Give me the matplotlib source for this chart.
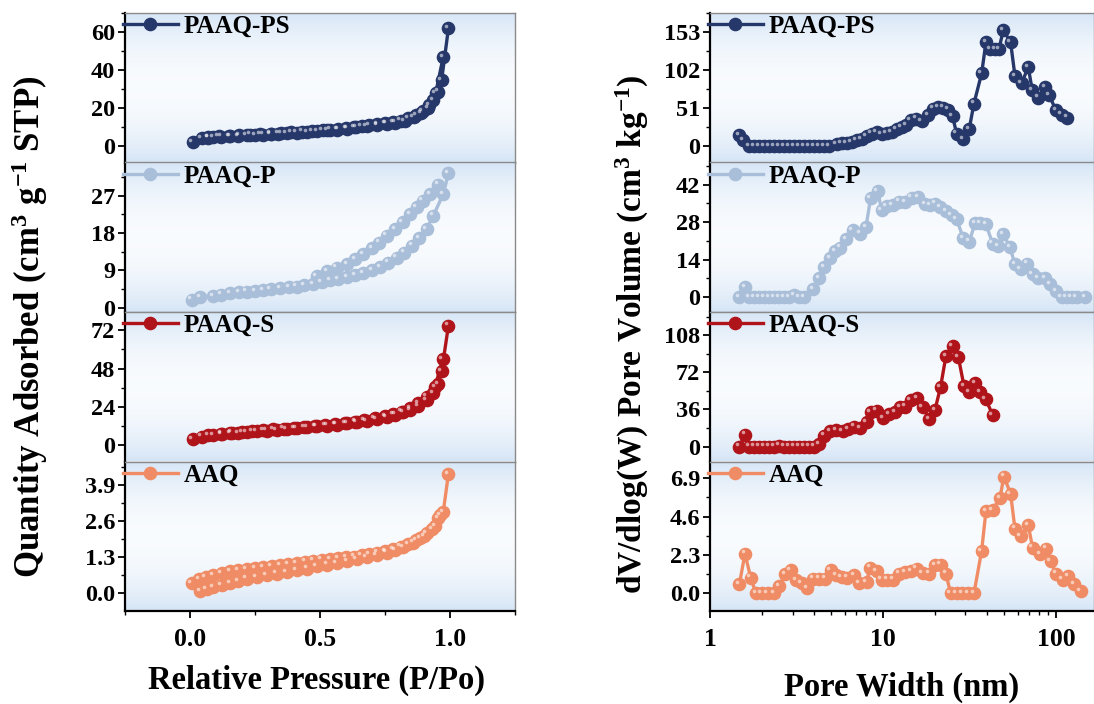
import numpy as np
import matplotlib.pyplot as plt
from matplotlib.ticker import MultipleLocator, FormatStrFormatter, LogLocator, NullFormatter, FixedLocator
from matplotlib.transforms import offset_copy

plt.rcParams['font.family'] = ['Liberation Serif', 'DejaVu Serif']
plt.rcParams['font.weight'] = 'bold'
plt.rcParams['mathtext.default'] = 'regular'

samples = ['PAAQ-PS', 'PAAQ-P', 'PAAQ-S', 'AAQ']
colors = ['#26376a', '#a9bed9', '#b0141b', '#f08c65']

# ---- N2 isotherms: adsorption / desorption branches ----
ps_p_ads = [0.010, 0.045, 0.07, 0.09, 0.12, 0.154, 0.185, 0.218, 0.25, 0.28, 0.31, 0.34, 0.372, 0.41,
            0.449, 0.49, 0.526, 0.565, 0.603, 0.64, 0.679, 0.72, 0.756, 0.79, 0.825, 0.86, 0.89,
            0.915, 0.936, 0.955, 0.968, 0.994]
ps_q_ads = [2.3, 4.2, 4.6, 5.0, 5.2, 5.4, 5.6, 5.8, 6.0, 6.2, 6.5, 6.8, 7.1, 7.3,
            7.6, 8.0, 8.5, 8.9, 9.4, 10.0, 10.6, 11.3, 12.0, 12.5, 13.5, 15.2, 17.5,
            20.0, 24.4, 28.8, 35.0, 62.0]
ps_p_des = [0.974, 0.945, 0.92, 0.895, 0.87, 0.84, 0.81, 0.78, 0.75, 0.72, 0.69, 0.66, 0.63, 0.60,
            0.57, 0.54, 0.51, 0.47, 0.43, 0.39, 0.35, 0.31, 0.27, 0.23, 0.19, 0.15, 0.11, 0.07]
ps_q_des = [47.0, 28.0, 21.5, 18.5, 16.5, 14.8, 13.6, 12.8, 12.2, 11.6, 11.1, 10.6, 10.1, 9.7,
            9.3, 8.9, 8.6, 8.2, 7.8, 7.4, 7.1, 6.8, 6.5, 6.2, 5.9, 5.6, 5.3, 4.9]

p_p_ads = [0.006, 0.04, 0.09, 0.12, 0.154, 0.19, 0.218, 0.25, 0.282, 0.31, 0.346, 0.38, 0.41, 0.44,
           0.474, 0.506, 0.538, 0.571, 0.603, 0.635, 0.667, 0.699, 0.731, 0.763, 0.795, 0.823,
           0.853, 0.882, 0.91, 0.936, 0.974, 0.994]
p_q_ads = [2.0, 2.5, 2.9, 3.2, 3.5, 3.7, 3.9, 4.1, 4.3, 4.5, 4.7, 4.9, 5.1, 5.4,
           5.8, 6.2, 6.6, 7.0, 7.4, 7.9, 8.4, 9.0, 9.9, 10.9, 12.1, 13.3,
           15.0, 16.8, 19.0, 22.2, 27.4, 32.4]
p_p_des = [0.955, 0.923, 0.895, 0.872, 0.846, 0.818, 0.788, 0.756, 0.728, 0.699, 0.667, 0.635,
           0.603, 0.564, 0.526, 0.487]
p_q_des = [29.7, 27.4, 25.8, 24.2, 22.6, 20.6, 19.0, 17.4, 15.7, 14.4, 12.9, 11.7,
           10.6, 9.7, 8.9, 7.7]

s_p_ads = [0.010, 0.045, 0.09, 0.122, 0.154, 0.186, 0.218, 0.256, 0.295, 0.333, 0.372, 0.41, 0.449,
           0.487, 0.526, 0.564, 0.603, 0.641, 0.679, 0.718, 0.756, 0.788, 0.821, 0.846, 0.878,
           0.91, 0.936, 0.955, 0.968, 0.994]
s_q_ads = [3.8, 5.3, 6.2, 6.7, 7.2, 7.6, 8.0, 8.5, 9.0, 9.5, 10.0, 10.5, 11.0,
           11.6, 12.2, 12.8, 13.5, 14.3, 15.2, 16.2, 17.5, 19.0, 20.5, 22.0, 24.5,
           28.0, 32.5, 38.0, 46.3, 75.0]
s_p_des = [0.972, 0.942, 0.91, 0.878, 0.846, 0.814, 0.782, 0.75, 0.71, 0.67, 0.635, 0.596, 0.558,
           0.519, 0.481, 0.44, 0.40, 0.36, 0.32, 0.28, 0.24, 0.20, 0.16, 0.12, 0.07]
s_q_des = [53.7, 36.3, 30.4, 26.5, 23.0, 21.0, 19.5, 18.2, 16.8, 15.6, 14.6, 13.8, 13.1,
           12.4, 11.8, 11.3, 10.8, 10.2, 9.7, 9.2, 8.7, 8.2, 7.7, 7.1, 6.3]

aaq_p_ads = [0.038, 0.064, 0.09, 0.122, 0.154, 0.186, 0.218, 0.256, 0.295, 0.333, 0.372, 0.41, 0.449,
             0.487, 0.526, 0.564, 0.603, 0.641, 0.679, 0.718, 0.756, 0.788, 0.821, 0.859, 0.885,
             0.91, 0.942, 0.955, 0.974, 0.994]
aaq_q_ads = [0.08, 0.16, 0.24, 0.31, 0.38, 0.45, 0.53, 0.59, 0.65, 0.71, 0.77, 0.83, 0.89,
             0.97, 1.03, 1.09, 1.15, 1.22, 1.30, 1.38, 1.46, 1.55, 1.65, 1.82, 1.98,
             2.15, 2.41, 2.71, 2.92, 4.29]
aaq_p_des = [0.962, 0.93, 0.90, 0.87, 0.84, 0.81, 0.78, 0.75, 0.72, 0.69, 0.66, 0.63, 0.60,
             0.57, 0.538, 0.506, 0.474, 0.442, 0.41, 0.378, 0.346, 0.314, 0.282, 0.25, 0.218,
             0.186, 0.154, 0.122, 0.09, 0.06, 0.035, 0.006]
aaq_q_des = [2.80, 2.30, 2.05, 1.90, 1.78, 1.68, 1.60, 1.53, 1.46, 1.40, 1.36, 1.32, 1.29,
             1.26, 1.24, 1.21, 1.18, 1.14, 1.10, 1.06, 1.02, 0.98, 0.95, 0.91, 0.87,
             0.83, 0.79, 0.73, 0.66, 0.58, 0.50, 0.36]

# ---- pore size distributions ----
ps_w = [1.478, 1.558, 1.688, 1.804, 1.928, 2.061, 2.203, 2.354, 2.516, 2.690, 2.875, 3.073, 3.284,
        3.510, 3.752, 4.010, 4.286, 4.581, 4.896, 5.398, 5.770, 6.166, 6.591, 7.044, 7.529, 8.047,
        8.601, 9.193, 9.824, 10.50, 11.22, 11.99, 12.82, 13.58, 14.45, 15.52, 16.73, 18.28, 19.54,
        20.88, 22.32, 23.86, 25.27, 26.66, 29.14, 31.55, 33.57, 37.19, 39.39, 41.54, 44.41, 46.83,
        49.61, 54.70, 57.94, 63.32, 69.20, 72.98, 79.06, 86.39, 91.52, 100.0, 107.8, 116.3]
ps_v = [14.4, 7.7, 0, 0, 0, 0, 0, 0, 0, 0, 0, 0, 0,
        0, 0, 0, 0, 0, 0, 3.2, 3.6, 4.0, 5.4, 7.7, 9.9, 13.1,
        16.7, 18.9, 15.8, 17.6, 18.9, 23.4, 25.7, 27.9, 34.7, 36.9, 33.8, 41.4, 50.4,
        52.7, 51.8, 49.1, 40.1, 16.7, 9.9, 23.4, 57.2, 97.7, 139.6, 130.1, 130.1, 130.1,
        156.2, 139.6, 94.5, 85.1, 105.8, 75.2, 65.3, 79.7, 68.4, 48.2, 42.3, 38.3]

p_w = [1.478, 1.593, 1.688, 1.804, 1.928, 2.061, 2.203, 2.354, 2.516, 2.690, 2.875, 3.073, 3.284,
       3.510, 3.957, 4.286, 4.581, 4.939, 5.280, 5.643, 6.111, 6.678, 7.364, 7.975, 8.486, 9.31,
       9.824, 10.50, 11.37, 12.43, 13.40, 14.64, 16.00, 17.49, 18.70, 19.98, 21.36, 23.13, 24.94,
       26.66, 29.14, 31.55, 34.02, 36.37, 39.39, 43.05, 46.41, 49.61, 54.21, 57.94, 62.49, 68.30,
       73.30, 79.06, 86.39, 92.34, 100.0, 107.8, 115.3, 123.2, 131.7, 147.1]
p_v = [0, 3.8, 0, 0, 0, 0, 0, 0, 0, 0, 0, 0.6, 0,
       0, 2.9, 7.2, 11.2, 14.5, 17.2, 18.5, 21.6, 25.1, 23.7, 26.2, 37.0, 39.7,
       32.5, 34.1, 34.5, 35.7, 35.4, 37.2, 37.5, 34.7, 34.5, 34.9, 33.5, 32.2, 30.7,
       29.1, 22.0, 20.7, 27.5, 27.5, 27.2, 20.0, 19.1, 23.5, 18.7, 12.2, 10.4, 12.5,
       8.5, 7.2, 7.2, 4.7, 2.2, 0, 0, 0, 0, 0]

s_w = [1.478, 1.593, 1.688, 1.804, 1.928, 2.061, 2.203, 2.354, 2.516, 2.690, 2.875, 3.073, 3.284,
       3.510, 3.752, 4.010, 4.286, 4.581, 4.939, 5.350, 5.847, 6.305, 6.800, 7.364, 8.047, 8.486,
       9.193, 10.04, 10.88, 11.73, 12.54, 13.40, 14.45, 15.79, 16.96, 18.53, 19.98, 21.54, 23.13,
       25.27, 27.26, 29.39, 31.55, 34.02, 36.37, 39.21, 43.05]
s_v = [0, 11.6, 0, 0, 0, 0, 0, 0, 1.0, 0, 0, 0, 0,
       0, 0, 0, 2.6, 10.6, 14.8, 16.1, 14.8, 17.1, 19.3, 18.0, 23.5, 33.2,
       34.8, 27.7, 31.6, 33.2, 38.0, 38.7, 45.1, 47.1, 38.0, 26.8, 35.5, 58.0, 88.0,
       97.7, 87.0, 59.0, 52.5, 61.3, 52.5, 46.1, 30.9]

aaq_w = [1.478, 1.593, 1.718, 1.845, 1.989, 2.154, 2.344, 2.516, 2.714, 2.927, 3.143, 3.388, 3.653,
         3.957, 4.286, 4.621, 4.984, 5.350, 5.770, 6.220, 6.800, 7.298, 8.047, 8.411, 9.193, 9.824,
         10.59, 11.47, 12.43, 13.40, 14.52, 15.65, 16.96, 18.53, 19.98, 21.54, 23.13, 24.61, 26.66,
         28.74, 31.13, 33.57, 37.19, 39.39, 43.05, 47.46, 50.05, 54.70, 57.94, 62.49, 69.20, 73.30,
         80.83, 87.54, 93.17, 100.0, 109.3, 117.8, 127.1, 138.8]
aaq_v = [0.54, 2.39, 0.95, 0, 0, 0, 0, 0.44, 1.15, 1.39, 0.79, 0.63, 0.30,
         0.89, 0.89, 0.89, 1.39, 1.09, 0.99, 0.95, 1.09, 0.63, 0.69, 1.55, 1.35, 0.83,
         0.83, 0.83, 1.19, 1.29, 1.35, 1.49, 1.23, 1.19, 1.69, 1.73, 1.19, 0, 0,
         0, 0, 0, 2.55, 4.93, 5.01, 5.73, 7.00, 5.97, 3.88, 3.42, 4.08, 2.74,
         2.35, 2.68, 1.95, 1.19, 0.83, 1.03, 0.56, 0.16]

iso = [(ps_p_ads, ps_q_ads, ps_p_des, ps_q_des), (p_p_ads, p_q_ads, p_p_des, p_q_des),
       (s_p_ads, s_q_ads, s_p_des, s_q_des), (aaq_p_ads, aaq_q_ads, aaq_p_des, aaq_q_des)]
psd = [(ps_w, ps_v), (p_w, p_v), (s_w, s_v), (aaq_w, aaq_v)]

iso_ylim = [(-8.4, 70), (-1.0, 35), (-10.4, 83.5), (-0.63, 4.73)]
iso_ticks = [(20, '%d'), (9, '%d'), (24, '%d'), (1.3, '%.1f')]
psd_ylim = [(-22, 179), (-5.6, 50.3), (-14.5, 130.6), (-1.05, 7.9)]
psd_ticks = [(51, '%d'), (14, '%d'), (36, '%d'), (2.3, '%.1f')]

W, H = 1094, 704
fig = plt.figure(figsize=(W / 100, H / 100), dpi=100)

top, bot = 13, 611
ph = (bot - top) / 4

grad = np.concatenate([np.linspace(0, 1, 50), np.linspace(1, 0, 50)])
grad = 1 - (1 - grad) ** 2
c_edge = np.array([0.84, 0.90, 0.965])
c_mid = np.array([0.975, 0.985, 0.995])
bg = (c_edge[None, :] * (1 - grad[:, None]) + c_mid[None, :] * grad[:, None])[:, None, :]


def style_axes(ax, last):
    ax.imshow(bg, extent=(0, 1, 0, 1), transform=ax.transAxes, aspect='auto', zorder=0)
    for s in ['top', 'right']:
        ax.spines[s].set_color('#8a8a8a')
        ax.spines[s].set_linewidth(1.0)
    ax.spines['left'].set_linewidth(1.6)
    ax.spines['bottom'].set_linewidth(1.6 if last else 1.0)
    ax.spines['bottom'].set_color('black' if last else '#8a8a8a')
    ax.tick_params(axis='y', which='major', direction='out', length=5, width=1.3, labelsize=17.5, pad=2)
    ax.tick_params(axis='y', which='minor', direction='out', length=3, width=1.0)
    if last:
        ax.tick_params(axis='x', which='major', direction='out', length=5, width=1.3, labelsize=18.5, pad=7)
        ax.tick_params(axis='x', which='minor', direction='out', length=3, width=1.0)
    else:
        ax.tick_params(axis='x', which='both', bottom=False, labelbottom=False)


def balls(ax, x, y, c):
    ax.plot(x, y, '-', color=c, lw=2.4, marker='o', ms=8.8, mec=c, mfc=c, zorder=3)
    hl = offset_copy(ax.transData, fig=fig, x=-1.6, y=1.6, units='points')
    ax.plot(x, y, 'o', color='white', ms=2.6, alpha=0.55, mec='none', transform=hl, zorder=4)


def add_legend(ax, i):
    h = ax.plot([], [], '-', color=colors[i], lw=2.4, marker='o', ms=8.8)
    ax.legend(h, [samples[i]], loc='upper left', bbox_to_anchor=(-0.006, 0.985), frameon=False,
              fontsize=18, handlelength=2.2, handletextpad=0.25, borderpad=0, borderaxespad=0)


for i in range(4):
    y0 = 1 - (top + ph * (i + 1)) / H
    last = i == 3
    # isotherm panel
    ax = fig.add_axes([125 / W, y0, 390 / W, ph / H])
    style_axes(ax, last)
    pa, qa, pd_, qd = iso[i]
    balls(ax, pd_, qd, colors[i])
    balls(ax, pa, qa, colors[i])
    ax.set_xlim(-0.25, 1.25)
    ax.set_ylim(*iso_ylim[i])
    step, fmt = iso_ticks[i]
    ax.yaxis.set_major_locator(FixedLocator([0, step, 2 * step, 3 * step]))
    ax.yaxis.set_minor_locator(MultipleLocator(step / 2))
    ax.yaxis.set_major_formatter(FormatStrFormatter(fmt))
    ax.xaxis.set_major_locator(MultipleLocator(0.5))
    ax.xaxis.set_minor_locator(MultipleLocator(0.25))
    ax.xaxis.set_major_formatter(FormatStrFormatter('%.1f'))
    add_legend(ax, i)

    # pore size distribution panel
    ax2 = fig.add_axes([710 / W, y0, (W - 710) / W, ph / H])
    style_axes(ax2, last)
    w, v = psd[i]
    balls(ax2, w, v, colors[i])
    ax2.set_xscale('log')
    ax2.set_xlim(1, 166)
    ax2.set_ylim(*psd_ylim[i])
    step, fmt = psd_ticks[i]
    ax2.yaxis.set_major_locator(FixedLocator([0, step, 2 * step, 3 * step]))
    ax2.yaxis.set_minor_locator(MultipleLocator(step / 2))
    ax2.yaxis.set_major_formatter(FormatStrFormatter(fmt))
    ax2.xaxis.set_major_locator(LogLocator(base=10, numticks=10))
    ax2.xaxis.set_minor_locator(LogLocator(base=10, subs=np.arange(2, 10), numticks=10))
    ax2.xaxis.set_minor_formatter(NullFormatter())
    ax2.xaxis.set_major_formatter(FormatStrFormatter('%d'))
    add_legend(ax2, i)

fig.text(30 / W, 1 - 327 / H, 'Quantity Adsorbed (cm$^3$ g$^{-1}$ STP)', rotation=90,
         ha='center', va='center', fontsize=25, fontweight='bold')
fig.text(632 / W, 1 - 334 / H, 'dV/dlog(W) Pore Volume (cm$^3$ kg$^{-1}$)', rotation=90,
         ha='center', va='center', fontsize=24, fontweight='bold')
fig.text(316 / W, 1 - 680 / H, 'Relative Pressure (P/Po)', ha='center', va='center',
         fontsize=23.5, fontweight='bold')
fig.text(902 / W, 1 - 687 / H, 'Pore Width (nm)', ha='center', va='center',
         fontsize=23.5, fontweight='bold')

fig.savefig('out.png', dpi=100)
